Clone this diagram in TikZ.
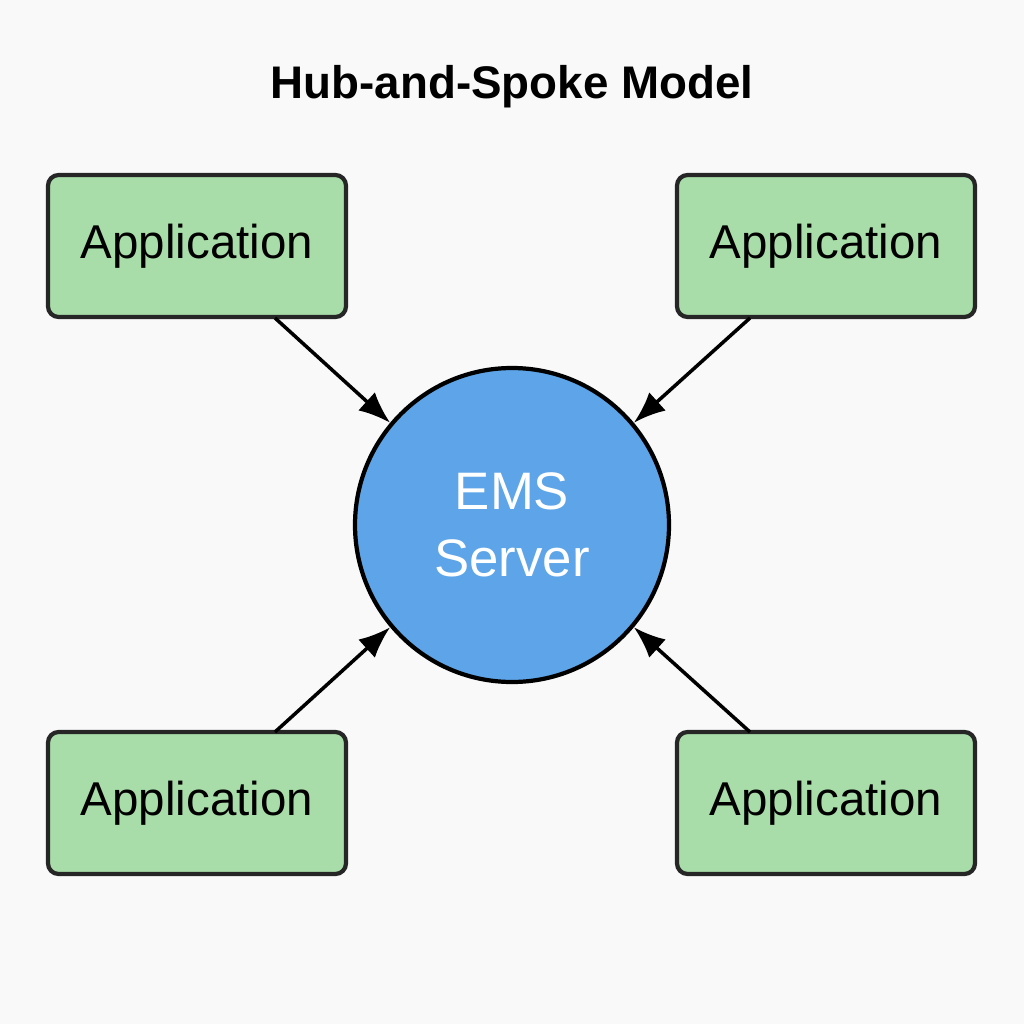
\documentclass[tikz,border=0pt]{standalone}
\usepackage{fontspec}
\setmainfont{Liberation Sans}
\usetikzlibrary{arrows.meta}
\definecolor{bg}{HTML}{F9F9F9}
\definecolor{appg}{HTML}{A8DCA8}
\definecolor{srv}{HTML}{5DA5E8}
\begin{document}
\begin{tikzpicture}[x=0.01cm,y=-0.01cm,
 app/.style={draw=black!85,line width=1.2pt,fill=appg,rounded corners=3pt,minimum width=298*0.01cm,minimum height=142*0.01cm,font=\fontsize{13.5}{16}\selectfont},
 arr/.style={-{Latex[length=9pt,width=7pt]},line width=1pt}]
\fill[bg] (0,0) rectangle (1024,1024);
\node[font=\bfseries\fontsize{13}{16}\selectfont] (title) at (512,87) {Hub-and-Spoke Model};
\node[app] (tl) at (197,246) {Application};
\node[app] (tr) at (826,246) {Application};
\node[app] (bl) at (197,803) {Application};
\node[app] (br) at (826,803) {Application};
\node[circle,draw=black,line width=1.2pt,fill=srv,minimum size=314*0.01cm,inner sep=0pt,text=white,align=center,font=\fontsize{15}{19}\selectfont] (c) at (512,525) {EMS\\Server};
\coordinate (s1) at (275,318);
\coordinate (s2) at (750,318);
\coordinate (s3) at (275,732);
\coordinate (s4) at (750,732);
\draw[arr] (s1) -- (c.140);
\draw[arr] (s2) -- (c.40);
\draw[arr] (s3) -- (c.220);
\draw[arr] (s4) -- (c.320);
\end{tikzpicture}
\end{document}
